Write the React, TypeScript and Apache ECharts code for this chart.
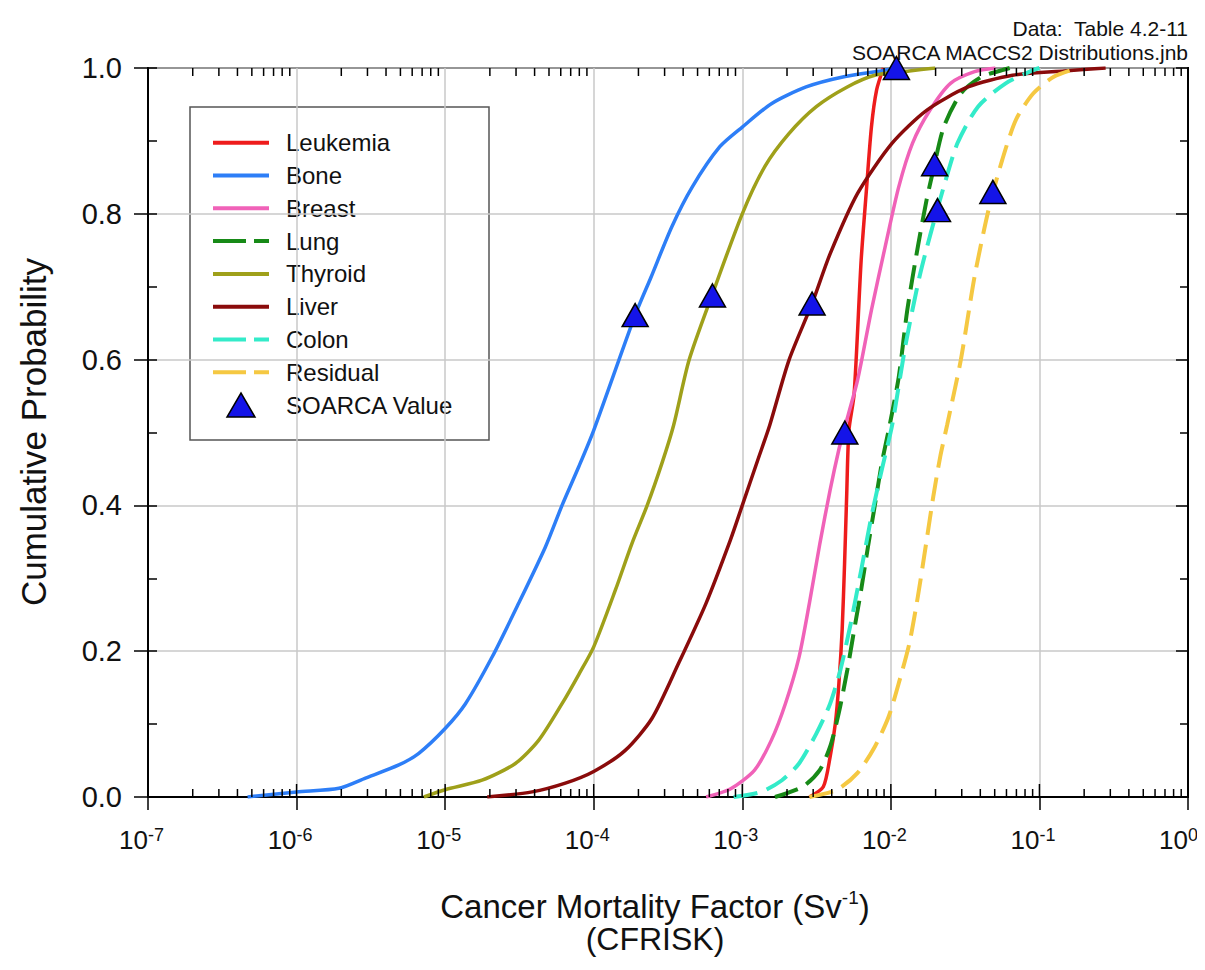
import React, { useEffect, useRef } from "react";
import * as echarts from "echarts";

// ---- data (x = CFRISK, p = cumulative probability) ----
const leukemia: [number, number][] = [
  [2.83e-3, 0], [3.51e-3, 0.014], [3.9e-3, 0.055], [4.23e-3, 0.101], [4.47e-3, 0.156],
  [4.7e-3, 0.229], [4.88e-3, 0.32], [5.04e-3, 0.412], [5.22e-3, 0.503], [5.66e-3, 0.553],
  [6.31e-3, 0.736], [6.82e-3, 0.828], [7.4e-3, 0.919], [8.02e-3, 0.97], [8.91e-3, 1.0],
];
const bone: [number, number][] = [
  [4.68e-7, 0], [1e-6, 0.007], [1.93e-6, 0.012], [2.91e-6, 0.026], [4.88e-6, 0.044],
  [6.65e-6, 0.06], [1e-5, 0.094], [1.37e-5, 0.128], [2.07e-5, 0.192], [3.13e-5, 0.266],
  [4.73e-5, 0.343], [6.12e-5, 0.4], [7.93e-5, 0.453], [1e-4, 0.503], [1.9e-4, 0.661],
  [2.43e-4, 0.713], [3.35e-4, 0.782], [4.61e-4, 0.837], [7.06e-4, 0.892], [1e-3, 0.919],
  [1.57e-3, 0.951], [2.69e-3, 0.974], [4.83e-3, 0.988], [9.16e-3, 0.997], [1.07e-2, 1.0],
];
const breast: [number, number][] = [
  [5.71e-4, 0], [8.3e-4, 0.011], [1.21e-3, 0.037], [1.57e-3, 0.078], [1.95e-3, 0.128],
  [2.41e-3, 0.192], [2.83e-3, 0.266], [3.33e-3, 0.348], [3.9e-3, 0.421], [4.46e-3, 0.476],
  [4.83e-3, 0.503], [5.97e-3, 0.572], [7.4e-3, 0.668], [9.16e-3, 0.755], [1.13e-2, 0.837],
  [1.4e-2, 0.897], [1.83e-2, 0.942], [2.52e-2, 0.979], [3.66e-2, 0.995], [5.05e-2, 1.0],
];
const lung: [number, number][] = [
  [1.66e-3, 0], [2.55e-3, 0.014], [3.32e-3, 0.037], [3.9e-3, 0.069], [4.46e-3, 0.115],
  [5.09e-3, 0.174], [5.66e-3, 0.229], [6.31e-3, 0.284], [7.01e-3, 0.343], [7.8e-3, 0.4],
  [8.69e-3, 0.458], [9.66e-3, 0.503], [1.13e-2, 0.576], [1.29e-2, 0.668], [1.52e-2, 0.755],
  [1.74e-2, 0.819], [1.93e-2, 0.86], [2.27e-2, 0.919], [2.96e-2, 0.965], [4.08e-2, 0.988],
  [5.62e-2, 0.997], [6.31e-2, 1.0],
];
const thyroid: [number, number][] = [
  [7.19e-6, 0], [1e-5, 0.01], [1.77e-5, 0.023], [2.97e-5, 0.046], [4.27e-5, 0.078],
  [6.12e-5, 0.128], [7.93e-5, 0.168], [1e-4, 0.206], [1.4e-4, 0.284], [1.81e-4, 0.348],
  [2.29e-4, 0.4], [2.88e-4, 0.458], [3.45e-4, 0.51], [4.38e-4, 0.599], [6.3e-4, 0.69],
  [1e-3, 0.8], [1.42e-3, 0.865], [2.06e-3, 0.91], [3.15e-3, 0.947], [5.09e-3, 0.974],
  [7.8e-3, 0.99], [1.33e-2, 0.996], [1.99e-2, 1.0],
];
const liver: [number, number][] = [
  [1.92e-5, 0], [3.85e-5, 0.007], [6.44e-5, 0.019], [1e-4, 0.035], [1.63e-4, 0.064],
  [2.47e-4, 0.108], [3.72e-4, 0.183], [5.71e-4, 0.266], [8.3e-4, 0.352], [1e-3, 0.4],
  [1.27e-3, 0.462], [1.53e-3, 0.51], [2.06e-3, 0.599], [2.95e-3, 0.677], [3.9e-3, 0.745],
  [5.97e-3, 0.828], [1.02e-2, 0.897], [1.74e-2, 0.942], [3.3e-2, 0.974], [6.59e-2, 0.99],
  [1.47e-1, 0.996], [2.79e-1, 1.0],
];
const colon: [number, number][] = [
  [8.75e-4, 0], [1.34e-3, 0.007], [1.85e-3, 0.023], [2.41e-3, 0.046], [3.15e-3, 0.087],
  [3.9e-3, 0.128], [4.57e-3, 0.174], [5.37e-3, 0.238], [6.31e-3, 0.311], [7.4e-3, 0.385],
  [8.71e-3, 0.45], [1.02e-2, 0.51], [1.26e-2, 0.622], [1.56e-2, 0.714], [1.83e-2, 0.769],
  [2.27e-2, 0.837], [2.81e-2, 0.897], [3.86e-2, 0.947], [5.93e-2, 0.979], [9.08e-2, 0.997],
  [1.0e-1, 1.0],
];
const residual: [number, number][] = [
  [2.83e-3, 0], [4.34e-3, 0.01], [5.97e-3, 0.033], [7.8e-3, 0.069], [9.66e-3, 0.11],
  [1.13e-2, 0.156], [1.33e-2, 0.21], [1.52e-2, 0.275], [1.74e-2, 0.352], [1.93e-2, 0.412],
  [2.15e-2, 0.467], [2.39e-2, 0.51], [2.96e-2, 0.6], [3.66e-2, 0.714], [4.54e-2, 0.805],
  [5.62e-2, 0.874], [6.95e-2, 0.929], [9.08e-2, 0.965], [1.25e-1, 0.988], [1.82e-1, 1.0],
];
const soarcaValues: [number, number][] = [
  [1.9e-4, 0.661], [6.3e-4, 0.688], [2.95e-3, 0.677], [4.9e-3, 0.5],
  [1.09e-2, 1.0], [1.97e-2, 0.868], [2.06e-2, 0.805], [4.86e-2, 0.83],
];

const SERIES_NAMES = ["Leukemia", "Bone", "Breast", "Lung", "Thyroid", "Liver", "Colon", "Residual"];
const SERIES_DATA = [leukemia, bone, breast, lung, thyroid, liver, colon, residual];
const SERIES_COLORS = ["#ee1c1c", "#2d7ef7", "#f062b8", "#178a17", "#9fa01a", "#8a0b0b", "#33ebc9", "#f5c842"];
const SERIES_DASHED = [false, false, false, true, false, false, true, true];
const MARKER_NAME = "SOARCA Value";

const X_EXPONENTS = [-7, -6, -5, -4, -3, -2, -1, 0];
const MINOR_MANTISSAS = [2, 3, 4, 5, 6, 7, 8, 9];

const FONT = "'Liberation Sans', Arial, Helvetica, sans-serif";
const MARKER_FILL = "#1414e8";

export default function App() {
  const ref = useRef<HTMLDivElement>(null);

  useEffect(() => {
    if (!ref.current) return;
    const chart = echarts.init(ref.current, undefined, { renderer: "svg" });

    // tick decorations (inside minor ticks on bottom/top, inside part of major ticks at bottom)
    const tickData: number[][] = [];
    X_EXPONENTS.slice(0, -1).forEach((e) =>
      MINOR_MANTISSAS.forEach((m) => tickData.push([m * Math.pow(10, e), 0, 8, 8]))
    );
    X_EXPONENTS.forEach((e) => tickData.push([Math.pow(10, e), 0, 13, 0]));

    const lineSeries = SERIES_NAMES.map((name, i) => ({
      name,
      type: "line",
      data: SERIES_DATA[i],
      showSymbol: false,
      symbol: "none",
      smooth: 0.25,
      xAxisIndex: 0,
      yAxisIndex: 0,
      lineStyle: {
        color: SERIES_COLORS[i],
        width: SERIES_DASHED[i] ? 4 : 3.5,
        type: SERIES_DASHED[i] ? [24, 10] : "solid",
      },
      itemStyle: { color: SERIES_COLORS[i] },
      z: 3,
    }));

    // legend drawn as graphic elements (box at page 190..489 x 107..440)
    const LX = 182, LY = 99, LW = 299, LH = 333;
    const rowY0 = 134.7, rowStep = 32.8;
    const legendChildren: any[] = [
      {
        type: "rect",
        shape: { x: LX, y: LY, width: LW, height: LH },
        style: { fill: "#fff", stroke: "#555", lineWidth: 1.5 },
      },
    ];
    SERIES_NAMES.forEach((name, i) => {
      const y = rowY0 + i * rowStep;
      legendChildren.push({
        type: "line",
        shape: { x1: 205, y1: y, x2: 261, y2: y },
        style: {
          stroke: SERIES_COLORS[i],
          lineWidth: 4,
          lineDash: SERIES_DASHED[i] ? [33, 8] : null,
        },
      });
      legendChildren.push({
        type: "text",
        x: 278,
        y,
        style: { text: name, font: `24px ${FONT}`, fill: "#111", align: "left", verticalAlign: "middle" },
      });
    });
    {
      const y = rowY0 + 8 * rowStep;
      legendChildren.push({
        type: "polygon",
        shape: { points: [[219, y + 12], [247, y + 12], [233, y - 12]] },
        style: { fill: MARKER_FILL, stroke: "#000", lineWidth: 1.5 },
      });
      legendChildren.push({
        type: "text",
        x: 278,
        y,
        style: { text: MARKER_NAME, font: `24px ${FONT}`, fill: "#111", align: "left", verticalAlign: "middle" },
      });
    }

    const hiddenY = {
      axisLine: { show: false },
      axisLabel: { show: false },
      splitLine: { show: false },
    };

    chart.setOption({
      animation: false,
      backgroundColor: "#fff",
      grid: {
        left: 140,
        top: 60,
        width: 1040,
        height: 729,
        show: true,
        borderColor: "#000",
        borderWidth: 2,
        backgroundColor: "#fff",
        containLabel: false,
        outerBoundsMode: "none",
      },
      xAxis: [
        {
          type: "log",
          logBase: 10,
          min: 1e-7,
          max: 1,
          splitNumber: 7,
          position: "bottom",
          axisLine: { show: true, lineStyle: { color: "#000", width: 2 } },
          axisTick: { show: true, inside: false, length: 13, lineStyle: { color: "#000", width: 1.5 } },
          minorTick: { show: false },
          splitLine: { show: true, lineStyle: { color: "#c8c8c8", width: 1.5 } },
          axisLabel: {
            show: true,
            formatter: () => "10",
            align: "right",
            margin: 30,
            fontSize: 26,
            color: "#111",
            fontFamily: FONT,
            showMinLabel: true,
            showMaxLabel: true,
          },
        },
        {
          type: "log",
          logBase: 10,
          min: 1e-7,
          max: 1,
          splitNumber: 7,
          position: "bottom",
          axisLine: { show: false },
          axisTick: { show: false },
          splitLine: { show: false },
          axisLabel: {
            show: true,
            formatter: (v: number) => String(Math.round(Math.log10(v))),
            align: "left",
            margin: 29,
            fontSize: 18,
            color: "#111",
            fontFamily: FONT,
            showMinLabel: true,
            showMaxLabel: true,
          },
        },
      ],
      yAxis: [
        {
          type: "value",
          min: 0,
          max: 1,
          interval: 0.2,
          position: "left",
          axisLine: { show: true, lineStyle: { color: "#000", width: 2 } },
          axisTick: { show: true, inside: false, length: 14, lineStyle: { color: "#000", width: 1.5 } },
          splitLine: { show: true, lineStyle: { color: "#c8c8c8", width: 1.5 } },
          axisLabel: {
            formatter: (v: number) => v.toFixed(1),
            margin: 26,
            fontSize: 29,
            color: "#111",
            fontFamily: FONT,
          },
        },
        {
          type: "value",
          min: 0,
          max: 1,
          interval: 0.1,
          position: "left",
          axisTick: { show: true, inside: true, length: 9, lineStyle: { color: "#000", width: 1.5 } },
          ...hiddenY,
        },
        {
          type: "value",
          min: 0,
          max: 1,
          interval: 0.2,
          position: "right",
          axisLine: { show: true, lineStyle: { color: "#000", width: 2 } },
          axisTick: { show: true, inside: true, length: 12, lineStyle: { color: "#000", width: 1.5 } },
          minorTick: { show: true, splitNumber: 2, length: 8, lineStyle: { color: "#000", width: 1.5 } },
          axisLabel: { show: false },
          splitLine: { show: false },
        },
      ],
      series: [
        ...lineSeries,
        {
          name: MARKER_NAME,
          type: "scatter",
          data: soarcaValues,
          symbol: "triangle",
          symbolSize: [26, 23],
          itemStyle: { color: MARKER_FILL, borderColor: "#000", borderWidth: 1.5, opacity: 1 },
          z: 5,
        },
        {
          type: "custom",
          silent: true,
          clip: false,
          z: 6,
          data: tickData,
          encode: { x: 0, y: 1 },
          renderItem: (_params: any, api: any) => {
            const v = api.value(0);
            const b = api.coord([v, 0]);
            const t = api.coord([v, 1]);
            const bl = api.value(2);
            const tl = api.value(3);
            const st = { stroke: "#000", lineWidth: 1.5 };
            const children: any[] = [];
            if (bl > 0)
              children.push({ type: "line", shape: { x1: b[0], y1: b[1], x2: b[0], y2: b[1] - bl }, style: st });
            if (tl > 0)
              children.push({ type: "line", shape: { x1: t[0], y1: t[1], x2: t[0], y2: t[1] + tl }, style: st });
            return { type: "group", children };
          },
        },
      ],
      graphic: [
        { type: "group", z: 20, children: legendChildren },
        {
          type: "text",
          x: 1180,
          y: 20,
          style: {
            text: "Data:  Table 4.2-11",
            font: `21px ${FONT}`,
            fill: "#111",
            align: "right",
            verticalAlign: "middle",
          },
        },
        {
          type: "text",
          x: 1180,
          y: 44,
          style: {
            text: "SOARCA MACCS2 Distributions.jnb",
            font: `21px ${FONT}`,
            fill: "#111",
            align: "right",
            verticalAlign: "middle",
          },
        },
        {
          type: "text",
          x: 25,
          y: 424,
          rotation: Math.PI / 2,
          style: {
            text: "Cumulative Probability",
            font: `35px ${FONT}`,
            fill: "#111",
            align: "center",
            verticalAlign: "middle",
          },
        },
        {
          type: "text",
          x: 647,
          y: 898,
          style: {
            text: "{n|Cancer Mortality Factor (Sv}{s|-1}{n|)}",
            align: "center",
            verticalAlign: "middle",
            rich: {
              n: { fontSize: 33, fontFamily: FONT, fill: "#111", color: "#111", lineHeight: 36 },
              s: { fontSize: 19, fontFamily: FONT, fill: "#111", color: "#111", verticalAlign: "top", lineHeight: 20 },
            },
          },
        },
        {
          type: "text",
          x: 647,
          y: 931,
          style: {
            text: "(CFRISK)",
            font: `32px ${FONT}`,
            fill: "#111",
            align: "center",
            verticalAlign: "middle",
          },
        },
      ],
    });

    return () => chart.dispose();
  }, []);

  return <div ref={ref} style={{ width: 1189, height: 954 }} />;
}
